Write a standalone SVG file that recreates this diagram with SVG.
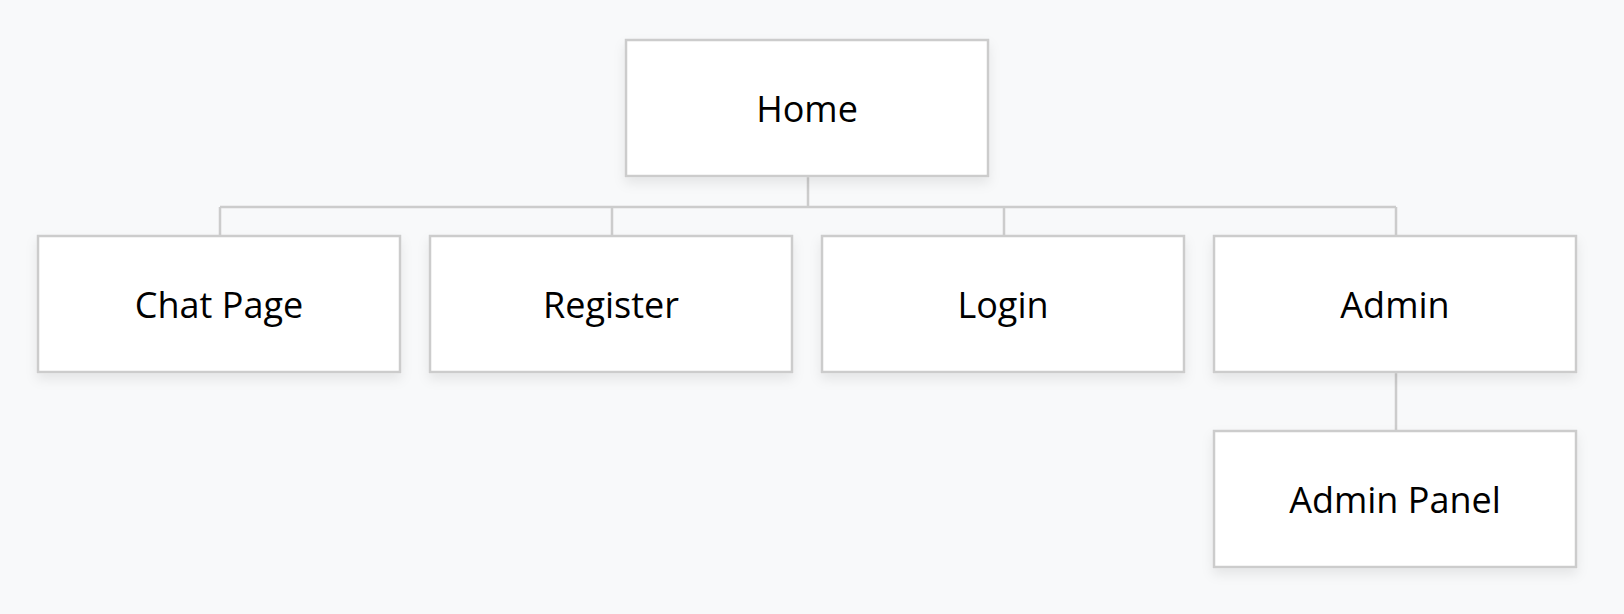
<svg xmlns="http://www.w3.org/2000/svg" width="1624" height="614" viewBox="0 0 1624 614">
<style>
.box{fill:#ffffff;stroke:#cccccc;stroke-width:2.5;filter:url(#sh)}
.lbl{font-family:"Open Sans","Noto Sans",sans-serif;font-size:36px;fill:#000000;text-anchor:middle;dominant-baseline:central}
.ln{stroke:#cccccc;stroke-width:2.5;fill:none}
</style>
<defs>
<filter id="sh" x="-10%" y="-20%" width="120%" height="150%">
<feDropShadow dx="0" dy="6" stdDeviation="6" flood-color="#000000" flood-opacity="0.08"/>
</filter>
</defs>
<rect width="1624" height="614" fill="#f8f9fa"/>
<g id="connectors">
<path class="ln" d="M808 176 V207 M220 207 H1396 M220 207 V236 M612 207 V236 M1004 207 V236 M1396 207 V236 M1396 372 V431"/>
</g>
<g id="home"><rect class="box" x="626" y="40" width="362" height="136"/><text class="lbl" x="807" y="108">Home</text></g>
<g id="chat"><rect class="box" x="38" y="236" width="362" height="136"/><text class="lbl" x="219" y="304">Chat Page</text></g>
<g id="register"><rect class="box" x="430" y="236" width="362" height="136"/><text class="lbl" x="611" y="304">Register</text></g>
<g id="login"><rect class="box" x="822" y="236" width="362" height="136"/><text class="lbl" x="1003" y="304">Login</text></g>
<g id="admin"><rect class="box" x="1214" y="236" width="362" height="136"/><text class="lbl" x="1395" y="304">Admin</text></g>
<g id="adminpanel"><rect class="box" x="1214" y="431" width="362" height="136"/><text class="lbl" x="1395" y="499">Admin Panel</text></g>
</svg>
